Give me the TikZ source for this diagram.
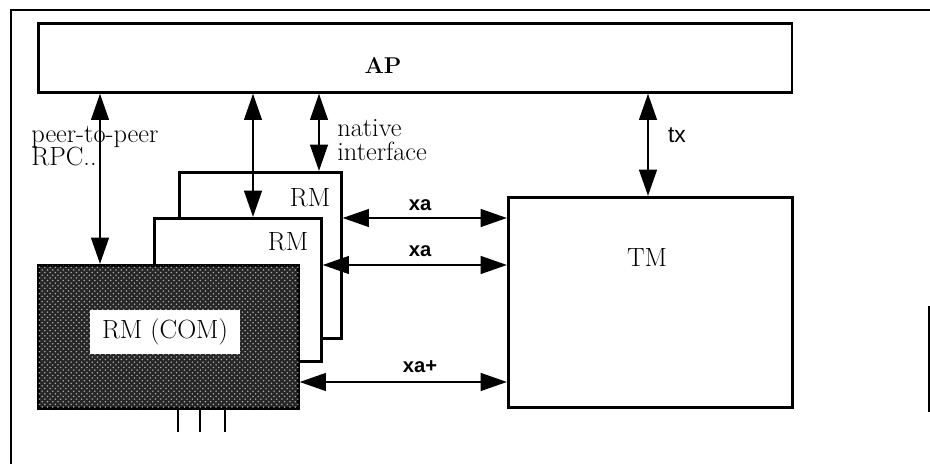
\documentclass[tikz,border=0pt]{standalone}
\usepackage{fontspec}
\newfontfamily\labelsans{Liberation Sans}
\usetikzlibrary{arrows.meta,patterns}

\tikzset{
  box/.style={draw, line width=1.5pt, fill=white, anchor=north west, inner sep=0pt},
  link/.style={line width=1.5pt, {Triangle[length=15pt,width=10pt]}-{Triangle[length=15pt,width=10pt]}},
  serif/.style={font=\fontsize{15}{13.5}\selectfont, inner sep=0pt},
  ifc/.style={font=\labelsans\bfseries\fontsize{11.5}{12}\selectfont, inner sep=0pt},
}

\begin{document}
\begin{tikzpicture}[x=0.02cm, y=-0.02cm]
  \useasboundingbox (0,0) rectangle (930,465);
  % frame
  \draw[line width=1.6pt] (11,464) -- (11,10) -- (930,10);
  \draw[line width=0.8pt] (929,306) -- (929,412);

  % boxes
  \node[box, minimum width=15.08cm, minimum height=1.38cm] (ap) at (37,22) {};
  \node[font=\bfseries\fontsize{13}{14}\selectfont] (aplbl) at (383,66) {AP};
  \node[box, minimum width=3.24cm, minimum height=3.32cm] (rma) at (178,171) {};
  \node[box, minimum width=3.34cm, minimum height=2.86cm] (rmb) at (153,217) {};
  \node[box, minimum width=5.2cm, minimum height=2.86cm, fill=black!85,
        postaction={pattern=crosshatch dots, pattern color=white!65!black}] (rmcom) at (37,264) {};
  \node[serif, fill=white, minimum width=3cm, minimum height=0.9cm] (comlbl) at (165,332) {RM (COM)};
  \node[box, minimum width=5.68cm, minimum height=4.2cm] (tm) at (507,196) {};

  \node[serif] (rmalbl) at (310,198) {RM};
  \node[serif] (rmblbl) at (288,242) {RM};
  \node[serif] (tmlbl) at (647,258) {TM};

  % where the links run
  \coordinate (peer) at (100,0);
  \coordinate (mid) at (253,0);
  \coordinate (nat) at (319,0);
  \coordinate (txc) at (648,0);
  \coordinate (xa1) at (0,218);
  \coordinate (xa2) at (0,265);
  \coordinate (xa3) at (0,382);

  \draw[link] (ap.south -| peer) -- (rmcom.north -| peer);
  \draw[link] (ap.south -| mid) -- (rmb.north -| mid);
  \draw[link] (ap.south -| nat) -- (rma.north -| nat);
  \draw[link] (ap.south -| txc) -- (tm.north -| txc);
  \draw[link] (rma.east |- xa1) -- (tm.west |- xa1);
  \draw[link] (rmb.east |- xa2) -- (tm.west |- xa2);
  \draw[link] (rmcom.east |- xa3) -- (tm.west |- xa3);

  % pins
  \foreach \px in {178,200,225}
    \draw[line width=1.5pt] (rmcom.south -| \px,0) -- (\px,432);

  \node[ifc] (xa1lbl) at (420,205) {xa};
  \node[ifc] (xa2lbl) at (420,251) {xa};
  \node[ifc] (xa3lbl) at (420,367) {xa+};
  \node[font=\labelsans\fontsize{13}{14}\selectfont, inner sep=0pt] (txlbl) at (677,135) {tx};
  \node[serif, align=left, anchor=west] (natlbl) at (337,140) {native\\interface};
  \node[serif, align=left, anchor=west] (peerlbl) at (31,146) {peer-to-peer\\RPC..};
\end{tikzpicture}
\end{document}
